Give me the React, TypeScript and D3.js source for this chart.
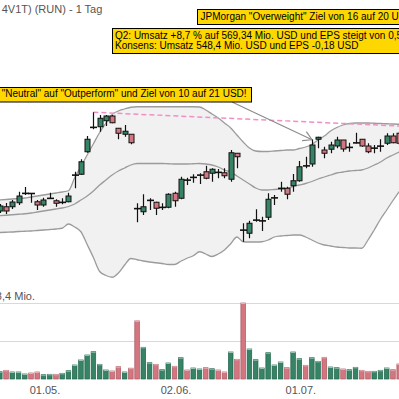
import { useEffect, useRef } from "react";
import * as d3 from "d3";

const WIDTH = 399;
const HEIGHT = 399;

// daily candles (USD), index 0 = first visible session
const opens = [7.76, 7.93, 7.93, 8.09, 8.46, 8.45, 8.13, 8.0, 8.26, 8.17, 8.1, 8.13, 9.19, 9.23, 10.13, 11.1, 11.13, 11.37, 11.56, 11.07, 10.83, 10.83, 7.85, 7.73, 8.18, 8.11, 7.9, 7.91, 8.47, 8.27, 8.99, 9.1, 9.19, 9.33, 9.27, 9.3, 9.29, 9.03, 10.07, 6.99, 6.87, 7.39, 7.36, 7.51, 8.28, 8.66, 8.67, 8.77, 8.97, 9.56, 9.64, 10.63, 10.2, 10.23, 10.36, 10.6, 10.3, 10.47, 10.63, 10.36, 10.27, 10.35, 10.47, 10.76, 10.87];
const highs = [8.04, 8.08, 8.2, 8.53, 8.72, 8.48, 8.2, 8.29, 8.49, 8.23, 8.27, 8.49, 9.33, 9.83, 10.76, 11.71, 11.6, 11.6, 11.6, 11.08, 11.2, 10.83, 8.07, 8.43, 8.27, 8.13, 8.07, 8.47, 8.53, 9.13, 9.09, 9.23, 9.27, 9.57, 9.47, 9.44, 9.47, 10.2, 10.07, 7.27, 7.37, 7.83, 7.53, 8.47, 8.4, 8.93, 8.73, 9.24, 9.76, 9.93, 10.63, 10.73, 10.33, 10.53, 10.73, 10.6, 10.49, 10.89, 10.63, 10.47, 10.4, 10.63, 10.87, 10.87, 10.93];
const lows = [7.68, 7.64, 7.84, 8.0, 8.4, 8.09, 7.8, 7.93, 8.24, 7.93, 8.03, 8.11, 8.67, 9.2, 10.09, 11.03, 10.93, 11.16, 11.27, 10.63, 10.73, 10.43, 7.31, 7.6, 7.8, 7.6, 7.8, 7.87, 7.93, 8.23, 8.8, 8.89, 8.84, 9.03, 8.93, 9.07, 9.07, 8.93, 9.47, 6.53, 6.67, 7.33, 6.96, 7.4, 8.0, 8.53, 8.23, 8.53, 8.93, 9.47, 9.53, 10.27, 9.87, 10.07, 10.27, 10.13, 10.13, 10.46, 10.33, 10.07, 10.07, 10.13, 10.4, 10.47, 10.4];
const closes = [7.96, 7.76, 8.12, 8.36, 8.47, 8.47, 8.0, 8.2, 8.27, 8.07, 8.11, 8.36, 9.2, 9.73, 10.63, 11.11, 11.47, 11.56, 11.29, 10.87, 10.95, 10.49, 7.86, 7.93, 8.19, 7.87, 7.91, 8.43, 8.17, 9.03, 9.0, 9.11, 9.2, 9.07, 9.43, 9.31, 9.17, 10.09, 9.93, 7.0, 7.27, 7.4, 7.37, 8.23, 8.29, 8.67, 8.43, 8.97, 9.53, 9.57, 10.4, 10.71, 10.07, 10.4, 10.6, 10.24, 10.31, 10.5, 10.36, 10.13, 10.28, 10.36, 10.76, 10.49, 10.47];

// Bollinger bands as shown
const upperBand = [8.2, 8.22, 8.24, 8.26, 8.28, 8.32, 8.36, 8.4, 8.44, 8.48, 8.52, 8.57, 9.09, 9.54, 10.0, 10.45, 10.9, 11.27, 11.62, 11.76, 11.84, 11.91, 11.93, 11.93, 11.93, 11.93, 11.93, 11.93, 11.93, 11.93, 11.93, 11.93, 11.92, 11.8, 11.64, 11.48, 11.28, 11.08, 10.8, 10.52, 10.28, 10.16, 10.14, 10.14, 10.16, 10.18, 10.2, 10.2, 10.26, 10.32, 10.42, 10.6, 10.76, 10.96, 11.1, 11.2, 11.26, 11.28, 11.28, 11.28, 11.27, 11.26, 11.25, 11.24, 11.23];
const middleBand = [7.57, 7.59, 7.61, 7.63, 7.65, 7.68, 7.72, 7.76, 7.8, 7.84, 7.88, 7.94, 8.04, 8.2, 8.36, 8.56, 8.8, 9.0, 9.2, 9.36, 9.48, 9.6, 9.66, 9.66, 9.66, 9.66, 9.66, 9.65, 9.64, 9.64, 9.64, 9.65, 9.66, 9.64, 9.6, 9.52, 9.4, 9.32, 9.16, 9.0, 8.84, 8.68, 8.6, 8.6, 8.62, 8.64, 8.66, 8.74, 8.8, 8.86, 8.94, 9.04, 9.12, 9.2, 9.28, 9.32, 9.36, 9.38, 9.4, 9.48, 9.6, 9.72, 9.88, 10.0, 10.12];
const lowerBand = [6.9, 6.91, 6.92, 6.94, 6.95, 6.96, 6.98, 7.0, 7.02, 7.04, 7.07, 7.24, 7.12, 6.93, 6.42, 5.9, 5.34, 5.18, 5.11, 5.28, 5.6, 5.86, 5.81, 5.76, 5.72, 5.69, 5.66, 5.62, 5.62, 5.75, 5.87, 5.97, 6.13, 6.04, 5.94, 6.04, 6.2, 6.45, 6.72, 6.53, 6.52, 6.52, 6.53, 6.6, 6.72, 6.76, 6.78, 6.8, 6.8, 6.72, 6.6, 6.48, 6.4, 6.36, 6.32, 6.3, 6.28, 6.28, 6.27, 6.6, 7.0, 7.43, 7.8, 8.18, 8.54];

// volume in Mio., 1 = up day (green), 0 = down day (red)
const volumes = [2.73, 3.25, 2.62, 2.62, 1.87, 2.24, 2.62, 1.61, 1.76, 1.76, 2.13, 3.1, 5.23, 7.1, 8.97, 10.2, 5.49, 3.36, 2.99, 4.6, 2.62, 4.04, 21.7, 11.85, 6.09, 5.49, 3.48, 5.98, 4.75, 7.96, 3.36, 4.11, 3.74, 4.22, 3.85, 3.36, 2.62, 10.09, 7.36, 28.4, 11.21, 7.21, 4.11, 9.83, 5.23, 6.35, 4.22, 10.09, 7.59, 5.12, 7.96, 6.61, 8.11, 4.48, 4.22, 3.74, 3.48, 4.37, 3.25, 2.88, 2.88, 3.25, 4.11, 3.48, 5.61];
const volumeUp = [1, 0, 1, 1, 1, 0, 0, 1, 1, 0, 1, 1, 1, 1, 1, 1, 1, 1, 0, 0, 1, 0, 0, 1, 1, 0, 1, 1, 0, 1, 0, 1, 1, 0, 1, 0, 0, 1, 0, 0, 1, 1, 1, 1, 1, 1, 0, 1, 1, 0, 1, 1, 0, 1, 1, 0, 1, 1, 0, 0, 1, 1, 1, 0, 0];
const volumeMax = 28.4;
const volumeGrid = [14.2, 28.4];
const volumeLabel = "28,4 Mio.";

const dateTicks = [7, 28, 48];
const dateLabels = ["01.05.", "02.06.", "01.07."];

// resistance line from the May high
const trendIdx = [15, 64];
const trendPrice = [11.71, 11.16];

const title = "4V1T) (RUN) - 1 Tag";
const noteJpm = 'JPMorgan "Overweight" Ziel von 16 auf 20 USD!';
const noteQ2 = [
  "Q2: Umsatz +8,7 % auf 569,34 Mio. USD und EPS steigt von 0,5",
  "Konsens: Umsatz 548,4 Mio. USD und EPS -0,18 USD",
];
const noteUpgrade = '"Neutral" auf "Outperform" und Ziel von 10 auf 21 USD!';
const upgradeIdx = 51;

const GREEN = "#368366";
const GREEN_DARK = "#23644b";
const RED = "#d4767f";
const RED_DARK = "#a85862";
const FONT = "'Liberation Sans', Arial, sans-serif";

export default function App() {
  const ref = useRef<SVGSVGElement>(null);

  useEffect(() => {
    const svg = d3.select(ref.current);
    svg.selectAll("*").remove();

    const n = closes.length;
    const idx = d3.range(n);
    const x = d3.scaleLinear().domain([0, n - 1]).range([-0.2, 399.2]);
    const y = d3.scaleLinear().domain([6.2, 12.2]).range([250, 100]);
    const yVol = d3.scaleLinear().domain([0, volumeMax]).range([379, 303]);

    // band fill + lines
    const area = d3
      .area<number>()
      .x((i) => x(i))
      .y0((i) => y(lowerBand[i]))
      .y1((i) => y(upperBand[i]))
      .curve(d3.curveMonotoneX);
    svg.append("path").datum(idx).attr("d", area).attr("fill", "#f1f1f1");

    [upperBand, middleBand, lowerBand].forEach((band) => {
      const line = d3
        .line<number>()
        .x((i) => x(i))
        .y((i) => y(band[i]))
        .curve(d3.curveMonotoneX);
      svg
        .append("path")
        .datum(idx)
        .attr("d", line)
        .attr("fill", "none")
        .attr("stroke", "#9b9b9b")
        .attr("stroke-width", 1.3);
    });

    // pink trend line
    svg
      .append("line")
      .attr("x1", x(trendIdx[0]))
      .attr("y1", y(trendPrice[0]))
      .attr("x2", x(trendIdx[1]))
      .attr("y2", y(trendPrice[1]))
      .attr("stroke", "#f28ec6")
      .attr("stroke-width", 1.5)
      .attr("stroke-dasharray", "5,3");

    // candles
    const candles = svg.append("g");
    idx.forEach((i) => {
      const cx = Math.round(x(i)) + 0.5;
      candles
        .append("line")
        .attr("x1", cx)
        .attr("x2", cx)
        .attr("y1", y(highs[i]))
        .attr("y2", y(lows[i]))
        .attr("stroke", "#111")
        .attr("stroke-width", 1.2);
      const yo = y(opens[i]);
      const yc = y(closes[i]);
      if (Math.abs(yo - yc) < 1.5) {
        candles
          .append("line")
          .attr("x1", cx - 3.5)
          .attr("x2", cx + 3.5)
          .attr("y1", (yo + yc) / 2)
          .attr("y2", (yo + yc) / 2)
          .attr("stroke", "#111")
          .attr("stroke-width", 1.6);
      } else {
        candles
          .append("rect")
          .attr("x", cx - 2.5)
          .attr("y", Math.min(yo, yc))
          .attr("width", 5)
          .attr("height", Math.abs(yo - yc))
          .attr("fill", closes[i] > opens[i] ? GREEN : RED)
          .attr("stroke", "#111")
          .attr("stroke-width", 1);
      }
    });

    // volume grid
    svg
      .selectAll("line.vgrid")
      .data(volumeGrid)
      .join("line")
      .attr("class", "vgrid")
      .attr("x1", 0)
      .attr("x2", WIDTH)
      .attr("y1", (d) => Math.round(yVol(d)) + 0.5)
      .attr("y2", (d) => Math.round(yVol(d)) + 0.5)
      .attr("stroke", "#d9d9d9")
      .attr("stroke-width", 1);

    svg
      .append("text")
      .attr("x", 35)
      .attr("y", yVol(volumeMax) - 3)
      .attr("text-anchor", "end")
      .attr("font-family", FONT)
      .attr("font-size", 11)
      .attr("fill", "#555")
      .text(volumeLabel);

    // volume bars
    svg
      .selectAll("rect.vol")
      .data(idx)
      .join("rect")
      .attr("class", "vol")
      .attr("x", (i) => x(i) - 2.3)
      .attr("width", 4.6)
      .attr("y", (i) => yVol(volumes[i]))
      .attr("height", (i) => yVol(0) - yVol(volumes[i]))
      .attr("fill", (i) => (volumeUp[i] ? GREEN : RED))
      .attr("stroke", (i) => (volumeUp[i] ? GREEN_DARK : RED_DARK))
      .attr("stroke-width", 0.7);
    svg
      .selectAll("line.volcap")
      .data(idx)
      .join("line")
      .attr("class", "volcap")
      .attr("x1", (i) => x(i) - 2.3)
      .attr("x2", (i) => x(i) + 2.3)
      .attr("y1", (i) => yVol(volumes[i]) + 0.5)
      .attr("y2", (i) => yVol(volumes[i]) + 0.5)
      .attr("stroke", (i) => (volumeUp[i] ? "#9cc2b2" : "#e8b0b6"))
      .attr("stroke-width", 1);

    // date labels
    svg
      .selectAll("text.date")
      .data(dateTicks)
      .join("text")
      .attr("class", "date")
      .attr("x", (d) => x(d) + 1.5)
      .attr("y", 394)
      .attr("text-anchor", "middle")
      .attr("font-family", FONT)
      .attr("font-size", 11)
      .attr("fill", "#555")
      .text((d, k) => dateLabels[k]);

    // title
    svg
      .append("text")
      .attr("x", 1.7)
      .attr("y", 12.7)
      .attr("font-family", FONT)
      .attr("font-size", 11)
      .attr("fill", "#555")
      .text(title);

    // annotation boxes
    const box = (x0: number, y0: number, w: number, h: number) =>
      svg
        .append("rect")
        .attr("x", x0 + 0.5)
        .attr("y", y0 + 0.5)
        .attr("width", w)
        .attr("height", h)
        .attr("fill", "#ffd700")
        .attr("stroke", "#000")
        .attr("stroke-width", 1);
    const note = (tx: number, ty: number, s: string) =>
      svg
        .append("text")
        .attr("x", tx)
        .attr("y", ty)
        .attr("font-family", FONT)
        .attr("font-size", 10)
        .attr("fill", "#000")
        .text(s);

    // arrow from upgrade box to candle
    const ax0 = 232;
    const ay0 = 102;
    const ax1 = x(upgradeIdx) - 6;
    const ay1 = y(highs[upgradeIdx]) + 3;
    svg
      .append("line")
      .attr("x1", ax0)
      .attr("y1", ay0)
      .attr("x2", ax1)
      .attr("y2", ay1)
      .attr("stroke", "#8c8c8c")
      .attr("stroke-width", 1.2);
    const ang = Math.atan2(ay1 - ay0, ax1 - ax0) + Math.PI;
    [-0.52, 0.52].forEach((off) => {
      svg
        .append("line")
        .attr("x1", ax1)
        .attr("y1", ay1)
        .attr("x2", ax1 + 10 * Math.cos(ang + off))
        .attr("y2", ay1 + 10 * Math.sin(ang + off))
        .attr("stroke", "#8c8c8c")
        .attr("stroke-width", 1.2);
    });

    box(197, 9, 220, 15);
    note(200.5, 20, noteJpm);

    box(112, 28, 300, 25);
    note(115, 39.3, noteQ2[0]);
    note(115, 49, noteQ2[1]);

    box(-3, 87, 254, 14.5);
    note(1.7, 97, noteUpgrade);
  }, []);

  return (
    <svg
      ref={ref}
      width={WIDTH}
      height={HEIGHT}
      style={{ position: "absolute", left: 0, top: 0, background: "#fff" }}
    />
  );
}
